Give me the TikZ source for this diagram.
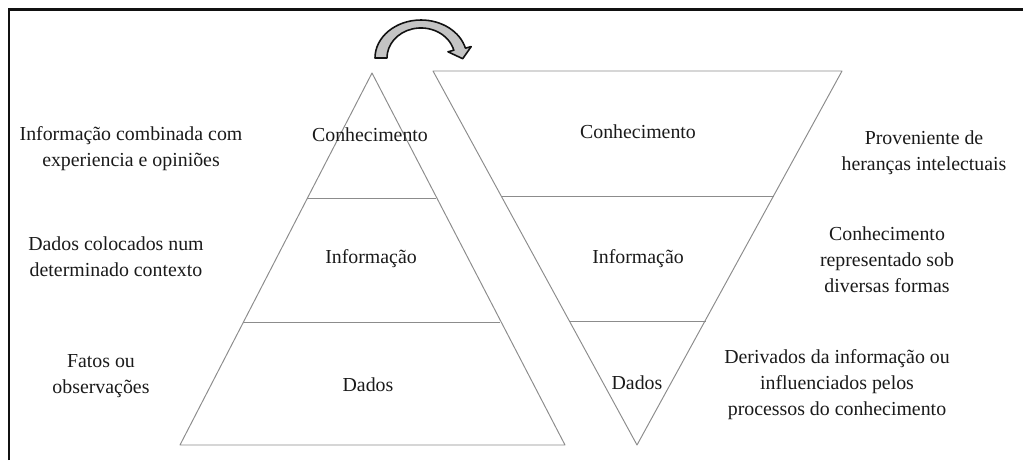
\documentclass[tikz,border=0pt]{standalone}
\usepackage{fontspec}
\setmainfont{Liberation Serif}
\usetikzlibrary{positioning}
\definecolor{frameLine}{HTML}{111111}
\definecolor{tierLine}{HTML}{8C8C8C}
\definecolor{arrowFill}{HTML}{C4C4C4}
\definecolor{inkText}{HTML}{1A1A1A}

\begin{document}
\begin{tikzpicture}[x=0.02cm, y=-0.02cm,
      layer/.style={font=\fontsize{11.3}{14.8}\selectfont, text=inkText, inner sep=0pt},
      note/.style={layer, align=center},
      tier/.style={draw=tierLine, line width=0.55pt, line join=round},
      turnarrow/.style={draw=frameLine, fill=arrowFill, line width=0.9pt, line join=round}
    ]
      \useasboundingbox (0,0) rectangle (1023,460);
      \draw[frameLine, line width=1.3pt] (9,460) -- (9,9.5) -- (1023,9.5);

      % pyramid
      \coordinate (pTop) at (372,73);
      \coordinate (pLeft) at (180,445);
      \coordinate (pRight) at (565,445);
      \draw[tier] (pTop) -- (pLeft) -- (pRight) -- cycle;
      \draw[tier] (307,198) -- (436,198);
      \draw[tier] (243,322) -- (500,322);
      \node[layer] (pKnow) at (370,135) {Conhecimento};
      \node[layer] (pInfo) at (371,259) {Informação};
      \node[layer] (pData) at (368,385) {Dados};

      % inverted pyramid
      \coordinate (iLeft) at (433,71);
      \coordinate (iRight) at (842,71);
      \coordinate (iBottom) at (637,445);
      \draw[tier] (iLeft) -- (iRight) -- (iBottom) -- cycle;
      \draw[tier] (501,196) -- (774,196);
      \draw[tier] (569,321) -- (706,321);
      \node[layer] (iKnow) at (638,132) {Conhecimento};
      \node[layer] (iInfo) at (638,259) {Informação};
      \node[layer] (iData) at (637,383) {Dados};

      % notes
      \node[note] (nKnow) at (131,149) {Informação combinada com\\experiencia e opiniões};
      \node[note] (nInfo) at (116,257) {Dados colocados num\\determinado contexto};
      \node[note] (nData) at (101,376) {Fatos ou\\observações};
      \node[note] (mKnow) at (924,153) {Proveniente de\\heranças intelectuais};
      \node[note] (mInfo) at (887,260) {Conhecimento\\representado sob\\diversas formas};
      \node[note] (mData) at (837,385) {Derivados da informação ou\\influenciados pelos\\processos do conhecimento};

      % turn-over arrow
      \draw[turnarrow] (375,58) arc[start angle=180, end angle=345, x radius=46, y radius=38]
        -- (471.2,46.6) -- (462.7,58.7) -- (448,51.8) -- (453.8,50.2)
        arc[start angle=345, end angle=180, x radius=34, y radius=30] -- cycle;
    \end{tikzpicture}
\end{document}
